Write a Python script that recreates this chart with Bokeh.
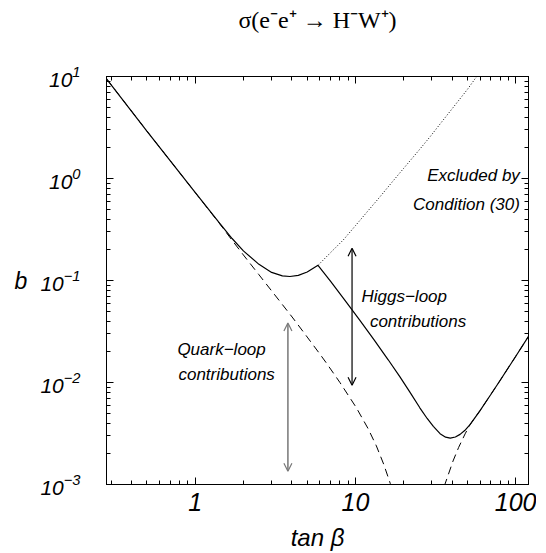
from bokeh.plotting import figure
from bokeh.models import (LogAxis, LogTicker, Label, Arrow, OpenHead,
                          CustomJSTickFormatter, Range1d)
from bokeh.embed import file_html
from bokeh.resources import INLINE

# ---------------- data ----------------
# total cross section (solid)
total_tanb = [0.28, 0.5, 1.0, 1.4, 1.7, 2.0, 2.5, 3.0, 3.5, 3.9, 4.4, 5.0,
              5.84, 7.0, 8.79, 10.6, 13.0, 16.0, 18.9, 21.8, 25.2, 28.0,
              30.6, 33.7, 36.5, 39.0, 42.0, 44.9, 48.0, 51.8, 59.7, 70.0,
              79.4, 100.0, 120.0]
total_b = [9.5, 2.92, 0.73, 0.375, 0.258, 0.195, 0.144, 0.120, 0.111,
           0.1094, 0.1122, 0.121, 0.141, 0.098, 0.0610, 0.0411, 0.0265,
           0.0167, 0.0114, 0.0081, 0.00565, 0.00444, 0.00372, 0.00315,
           0.00291, 0.00285, 0.00292, 0.00310, 0.00338, 0.00386, 0.00528,
           0.00767, 0.01035, 0.0181, 0.0283]

# quark-loop contributions (dashed)
quark_lo_tanb = [0.28, 0.5, 1.0, 1.4, 1.7, 2.0, 2.5, 3.0, 3.5, 4.07, 5.0,
                 6.0, 6.59, 8.0, 10.1, 12.0, 13.5, 15.0, 16.5, 17.0]
quark_lo_b = [9.5, 2.92, 0.73, 0.372, 0.248, 0.178, 0.114, 0.0791, 0.0581,
              0.0429, 0.0279, 0.0190, 0.0155, 0.0100, 0.0057, 0.00352,
              0.00239, 0.00158, 0.00102, 0.00088]
quark_hi_tanb = [34.0, 36.1, 40.6, 44.0, 48.3, 51.8, 59.7, 70.0, 79.4,
                 100.0, 120.0]
quark_hi_b = [0.00072, 0.00100, 0.00170, 0.00231, 0.00314, 0.00386, 0.00528,
              0.00767, 0.01035, 0.0181, 0.0283]

# excluded branch (dotted)
excl_tanb = [5.84, 7.0, 8.4, 10.0, 12.0, 14.2, 17.0, 20.0, 25.0, 29.1, 35.0,
             42.0, 50.0, 55.7, 60.0]
excl_b = [0.141, 0.188, 0.25, 0.345, 0.484, 0.66, 0.93, 1.26, 1.91, 2.55,
          3.69, 5.3, 7.5, 9.5, 11.0]

# annotation arrows: (tanb, b_start, b_end)
quark_arrow = (3.79, 0.0383, 0.00135)
higgs_arrow = (9.52, 0.207, 0.0094)

# axis ranges
x_lo, x_hi = 0.28, 120.0
y_lo, y_hi = 1e-3, 10.0

FRAME_W, FRAME_H = 422, 408
TITLE = "σ(e⁻e⁺ → H⁻W⁺)"

# ---------------- figure ----------------
p = figure(x_axis_type="log", y_axis_type="log",
           x_range=Range1d(x_lo, x_hi), y_range=Range1d(y_lo, y_hi),
           frame_width=FRAME_W, frame_height=FRAME_H,
           min_border_left=106, min_border_right=8,
           min_border_top=76, min_border_bottom=50,
           output_backend="svg", toolbar_location=None,
           background_fill_color="white", border_fill_color="white")

p.xgrid.visible = False
p.ygrid.visible = False
p.outline_line_color = "black"
p.outline_line_width = 1
p.title.text = ""
p.title.standoff = 0
p.title.visible = False

tick_font = "Liberation Sans"

def style_axis(ax):
    ax.axis_line_color = "black"
    ax.major_tick_line_color = "black"
    ax.minor_tick_line_color = "black"
    ax.major_tick_in = 7
    ax.major_tick_out = 0
    ax.minor_tick_in = 4
    ax.minor_tick_out = 0
    ax.major_label_text_font = tick_font
    ax.major_label_text_font_style = "italic"
    ax.major_label_text_color = "black"

xa = p.xaxis[0]
ya = p.yaxis[0]
style_axis(xa)
style_axis(ya)
xa.ticker = LogTicker(num_minor_ticks=10)
ya.ticker = LogTicker(num_minor_ticks=10)
xa.formatter = CustomJSTickFormatter(code="return String(Math.round(tick));")
xa.major_label_text_font_size = "25px"
xa.major_label_standoff = 8
xa.axis_label = "tan β"
xa.axis_label_text_font = tick_font
xa.axis_label_text_font_style = "italic"
xa.axis_label_text_font_size = "24px"
xa.axis_label_text_color = "black"
xa.axis_label_standoff = 10

ya.major_label_text_font_size = "21px"
ya.major_label_standoff = 26
ya.axis_label = "b"
ya.axis_label_orientation = "horizontal"
ya.axis_label_text_font = tick_font
ya.axis_label_text_font_style = "italic"
ya.axis_label_text_font_size = "23px"
ya.axis_label_text_color = "black"
ya.axis_label_standoff = 10

# mirrored tick axes (no tick labels); the top one carries the chart title
top = LogAxis(ticker=LogTicker(num_minor_ticks=10),
              formatter=CustomJSTickFormatter(code="return '';"))
right = LogAxis(ticker=LogTicker(num_minor_ticks=10),
                formatter=CustomJSTickFormatter(code="return '';"))
for ax in (top, right):
    style_axis(ax)
    ax.major_label_text_font_size = "10px"
    ax.major_label_standoff = 0
top.axis_label = TITLE
top.axis_label_text_font = "Liberation Serif"
top.axis_label_text_font_style = "normal"
top.axis_label_text_font_size = "24px"
top.axis_label_text_color = "black"
top.axis_label_standoff = 44
p.add_layout(top, "above")
p.add_layout(right, "right")

# ---------------- curves ----------------
p.line(excl_tanb, excl_b, line_color="black", line_width=1, line_dash="1 2")
p.line(quark_lo_tanb, quark_lo_b, line_color="black", line_width=1,
       line_dash="8 5")
p.line(quark_hi_tanb, quark_hi_b, line_color="black", line_width=1,
       line_dash="8 5")
p.line(total_tanb, total_b, line_color="black", line_width=1.2)

# ---------------- arrows ----------------
qx, qy0, qy1 = quark_arrow
p.add_layout(Arrow(start=OpenHead(size=8, line_color="#777777", line_width=1.2),
                   end=OpenHead(size=8, line_color="#777777", line_width=1.2),
                   x_start=qx, y_start=qy0, x_end=qx, y_end=qy1,
                   line_color="#777777", line_width=1.5))
hx, hy0, hy1 = higgs_arrow
p.add_layout(Arrow(start=OpenHead(size=8, line_color="black", line_width=1.2),
                   end=OpenHead(size=8, line_color="black", line_width=1.2),
                   x_start=hx, y_start=hy0, x_end=hx, y_end=hy1,
                   line_color="black", line_width=1.2))

# ---------------- text annotations ----------------
def note(x, y, text, align="left"):
    p.add_layout(Label(x=x, y=y, text=text, text_font=tick_font,
                       text_font_style="italic", text_font_size="17px",
                       text_color="black", text_align=align,
                       text_baseline="middle"))

note(0.775, 0.021, "Quark−loop")
note(0.787, 0.0119, "contributions")
note(10.9, 0.0696, "Higgs−loop")
note(12.3, 0.0397, "contributions")
note(106.0, 1.077, "Excluded by", align="right")
note(106.0, 0.56, "Condition (30)", align="right")

open("out.html", "w").write(file_html(p, INLINE))
